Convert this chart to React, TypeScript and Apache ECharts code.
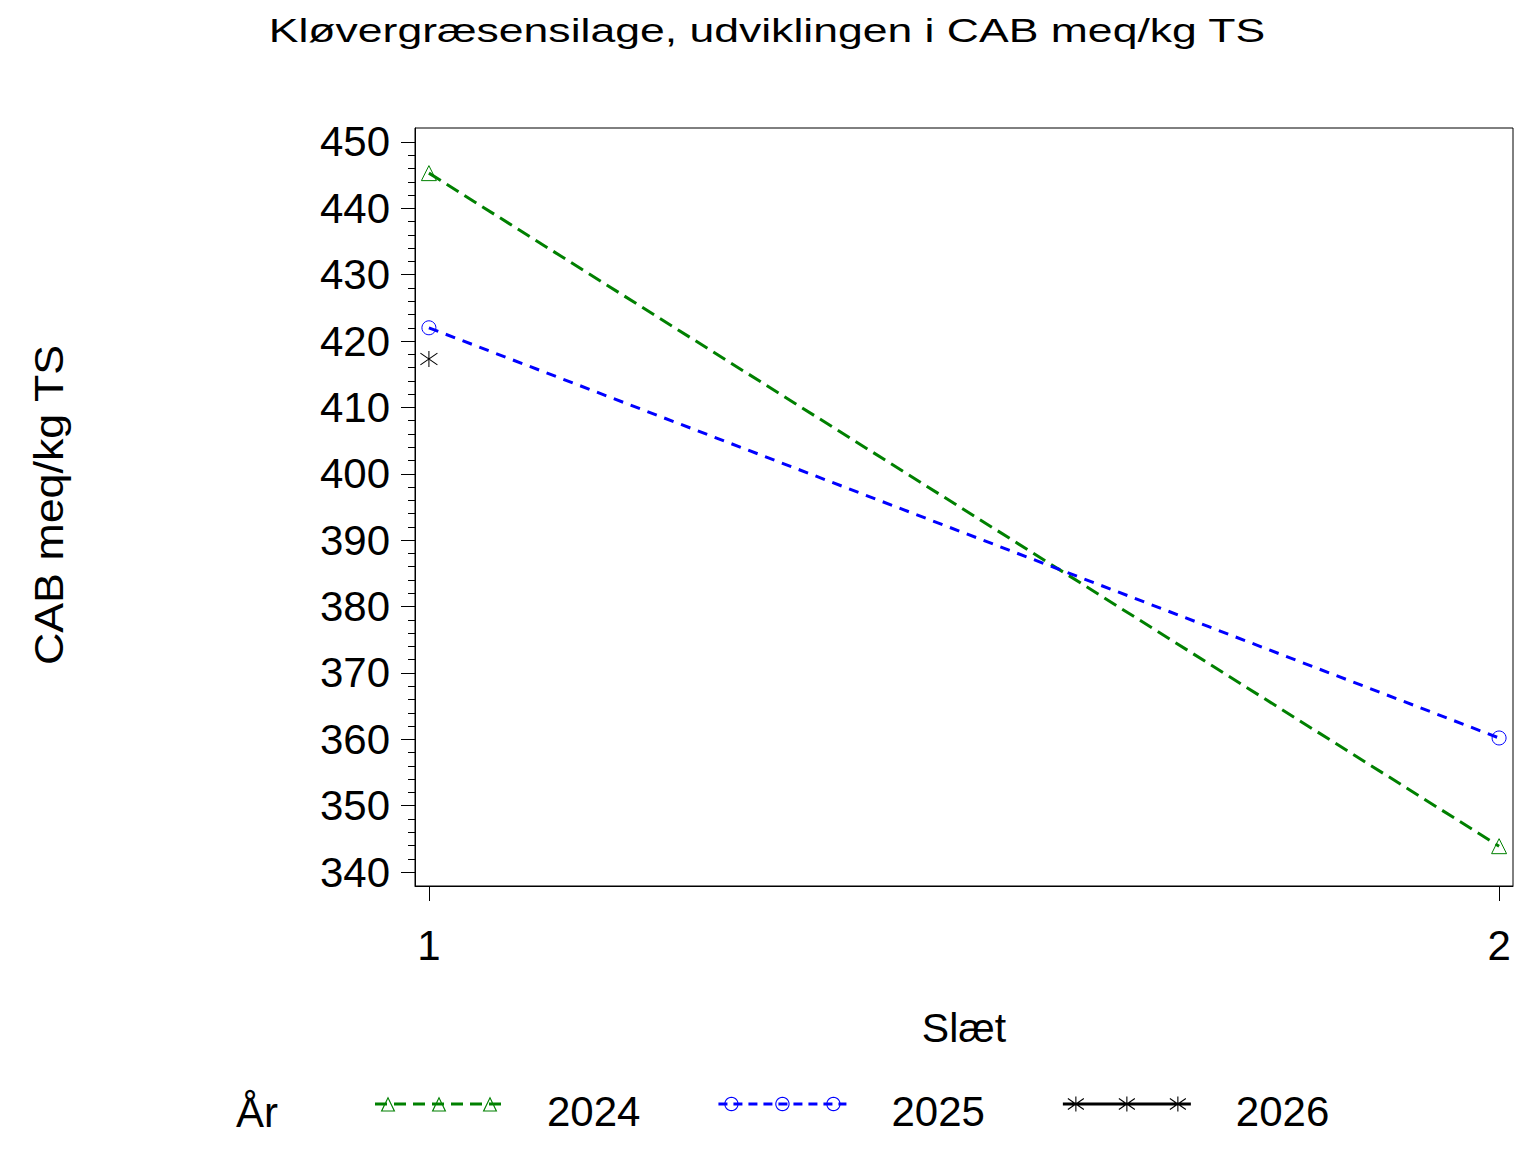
import React, { useEffect, useRef } from "react";
import * as echarts from "echarts";

// ---- data ----
const years = ["2024", "2025", "2026"];
const slaet = [1, 2];
const cab2024 = [445.3, 343.9];
const cab2025 = [422.0, 360.2];
const cab2026 = [417.3];
const xTicks = [1, 2];
const yMajorTicks = [340, 350, 360, 370, 380, 390, 400, 410, 420, 430, 440, 450];

const FONT = "'Liberation Sans', Arial, Helvetica, sans-serif";
const GREEN = "#008000";
const BLUE = "#0000ff";
const BLACK = "#000000";

// ---- legend icon geometry helpers ----
const fmt = (n: number) => (Math.round(n * 100) / 100).toString();
function area(pts: number[][]) {
  let s = 0;
  for (let i = 0; i < pts.length; i++) {
    const a = pts[i];
    const b = pts[(i + 1) % pts.length];
    s += a[0] * b[1] - b[0] * a[1];
  }
  return s;
}
function poly(pts: number[][], positive: boolean) {
  let p = pts.slice();
  if ((area(p) > 0) !== positive) p = p.reverse();
  return "M" + p.map((q) => fmt(q[0]) + " " + fmt(q[1])).join("L") + "Z";
}
function bar(x1: number, y1: number, x2: number, y2: number, t: number) {
  const dx = x2 - x1;
  const dy = y2 - y1;
  const len = Math.hypot(dx, dy);
  const nx = (-dy / len) * (t / 2);
  const ny = (dx / len) * (t / 2);
  return poly(
    [
      [x1 + nx, y1 + ny],
      [x2 + nx, y2 + ny],
      [x2 - nx, y2 - ny],
      [x1 - nx, y1 - ny],
    ],
    true
  );
}
const IW = 128;
const IH = 15;
const CY = IH / 2;
const MARKS = [13, 64, 115];
function dashed(d: number, g: number, th: number) {
  let s = "";
  for (let x = 0; x < IW; x += d + g) {
    const w = Math.min(d, IW - x);
    s += poly(
      [
        [x, CY - th / 2],
        [x + w, CY - th / 2],
        [x + w, CY + th / 2],
        [x, CY + th / 2],
      ],
      true
    );
  }
  return s;
}
function triRing(cx: number) {
  const outer = [
    [cx, 0],
    [cx + 7.3, IH],
    [cx - 7.3, IH],
  ];
  const inner = [
    [cx, 2.5],
    [cx + 5.5, IH - 1.1],
    [cx - 5.5, IH - 1.1],
  ];
  return poly(outer, true) + poly(inner, false);
}
function circRing(cx: number) {
  const o: number[][] = [];
  const i: number[][] = [];
  for (let k = 0; k < 28; k++) {
    const a = (k / 28) * Math.PI * 2;
    o.push([cx + 7.2 * Math.cos(a), CY + 7.2 * Math.sin(a)]);
    i.push([cx + 6.1 * Math.cos(a), CY + 6.1 * Math.sin(a)]);
  }
  return poly(o, true) + poly(i, false);
}
function star(cx: number) {
  return (
    bar(cx, 0, cx, IH, 1.1) +
    bar(cx - 8, CY - 5.5, cx + 8, CY + 5.5, 1.1) +
    bar(cx - 8, CY + 5.5, cx + 8, CY - 5.5, 1.1)
  );
}
const icon2024 = "path://" + dashed(12, 7, 3) + MARKS.map(triRing).join("");
const icon2025 = "path://" + dashed(9, 6, 3) + MARKS.map(circRing).join("");
const icon2026 =
  "path://" +
  poly(
    [
      [0, CY - 1.4],
      [IW, CY - 1.4],
      [IW, CY + 1.4],
      [0, CY + 1.4],
    ],
    true
  ) +
  MARKS.map(star).join("");

const STAR_SYMBOL = "path://M8.5 0L8.5 15.7M0 2L17 13.7M0 13.7L17 2";

export default function App() {
  const ref = useRef<HTMLDivElement>(null);
  useEffect(() => {
    document.body.style.margin = "0";
    if (!ref.current) return;
    const chart = echarts.init(ref.current, null, { renderer: "svg" });
    const yMinorTicks: number[] = [];
    for (let v = yMajorTicks[0]; v <= yMajorTicks[yMajorTicks.length - 1]; v += 2) yMinorTicks.push(v);
    const yMin = 337.9;
    const yMax = 452.1;
    const option: any = {
      animation: false,
      backgroundColor: "#ffffff",
      grid: {
        left: 415,
        top: 128,
        width: 1098,
        height: 758,
        show: true,
        borderColor: BLACK,
        borderWidth: 1,
        backgroundColor: "transparent",
        containLabel: false,
      },
      xAxis: {
        type: "value",
        min: 0.987,
        max: 2.013,
        axisLine: { show: true, lineStyle: { color: BLACK, width: 1 } },
        axisTick: { show: true, customValues: xTicks, length: 15, lineStyle: { color: BLACK, width: 1 } },
        axisLabel: {
          customValues: xTicks,
          fontSize: 42,
          fontFamily: FONT,
          color: BLACK,
          margin: 59,
          verticalAlign: "middle",
        },
        splitLine: { show: false },
        name: "Slæt",
        nameLocation: "middle",
        nameGap: 142,
        nameTextStyle: { fontSize: 41, fontFamily: FONT, color: BLACK, verticalAlign: "middle" },
      },
      yAxis: [
        {
          type: "value",
          min: yMin,
          max: yMax,
          position: "left",
          axisLine: { show: true, lineStyle: { color: BLACK, width: 1 } },
          axisTick: { show: true, customValues: yMajorTicks, length: 14, lineStyle: { color: BLACK, width: 1 } },
          axisLabel: { customValues: yMajorTicks, fontSize: 42, fontFamily: FONT, color: BLACK, margin: 25 },
          splitLine: { show: false },
        },
        {
          type: "value",
          min: yMin,
          max: yMax,
          position: "left",
          axisLine: { show: false },
          axisTick: { show: true, customValues: yMinorTicks, length: 7, lineStyle: { color: BLACK, width: 1 } },
          axisLabel: { show: false },
          splitLine: { show: false },
        },
      ],
      legend: {
        left: 375,
        top: 1090,
        orient: "horizontal",
        itemWidth: IW,
        itemHeight: IH,
        itemGap: 78,
        padding: 0,
        selectedMode: false,
        itemStyle: { borderWidth: 0 },
        formatter: "{a|{name}}",
        textStyle: {
          color: BLACK,
          fontFamily: FONT,
          fontSize: 42,
          rich: { a: { color: BLACK, fontFamily: FONT, fontSize: 42, padding: [14, 0, 0, 40] } },
        },
        data: [
          { name: years[0], icon: icon2024, itemStyle: { color: GREEN, borderWidth: 0 } },
          { name: years[1], icon: icon2025, itemStyle: { color: BLUE, borderWidth: 0 } },
          { name: years[2], icon: icon2026, itemStyle: { color: BLACK, borderWidth: 0 } },
        ],
      },
      graphic: [
        {
          type: "text",
          x: 767,
          y: 30,
          scaleX: 1.31,
          style: {
            text: "Kløvergræsensilage, udviklingen i CAB meq/kg TS",
            fontSize: 34,
            fontFamily: FONT,
            fill: BLACK,
            textAlign: "center",
            textVerticalAlign: "middle",
            verticalAlign: "middle",
          },
        },
        {
          type: "text",
          x: 49,
          y: 505,
          rotation: Math.PI / 2,
          scaleX: 1.12,
          style: {
            text: "CAB meq/kg TS",
            fontSize: 40,
            fontFamily: FONT,
            fill: BLACK,
            textAlign: "center",
            textVerticalAlign: "middle",
            verticalAlign: "middle",
          },
        },
        {
          type: "text",
          x: 236,
          y: 1112,
          style: {
            text: "År",
            fontSize: 42,
            fontFamily: FONT,
            fill: BLACK,
            textAlign: "left",
            textVerticalAlign: "middle",
            verticalAlign: "middle",
          },
        },
      ],
      series: [
        {
          name: years[0],
          type: "line",
          data: slaet.map((s, i) => [s, cab2024[i]]),
          symbol: "triangle",
          symbolSize: [15, 15],
          itemStyle: { color: "rgba(0,0,0,0)", borderColor: GREEN, borderWidth: 1 },
          lineStyle: { color: GREEN, width: 3, type: [14, 7] },
          z: 3,
        },
        {
          name: years[1],
          type: "line",
          data: slaet.map((s, i) => [s, cab2025[i]]),
          symbol: "circle",
          symbolSize: 14,
          itemStyle: { color: "rgba(0,0,0,0)", borderColor: BLUE, borderWidth: 1 },
          lineStyle: { color: BLUE, width: 3, type: [10, 8] },
          z: 3,
        },
        {
          name: years[2],
          type: "line",
          data: cab2026.map((v, i) => [slaet[i], v]),
          symbol: STAR_SYMBOL,
          symbolSize: [17, 16],
          itemStyle: { color: "rgba(0,0,0,0)", borderColor: BLACK, borderWidth: 1 },
          lineStyle: { color: BLACK, width: 3 },
          z: 3,
        },
      ],
    };
    chart.setOption(option);
    return () => chart.dispose();
  }, []);
  return (
    <div
      ref={ref}
      style={{ position: "absolute", left: 0, top: 0, width: 1536, height: 1152, background: "#fff" }}
    />
  );
}
